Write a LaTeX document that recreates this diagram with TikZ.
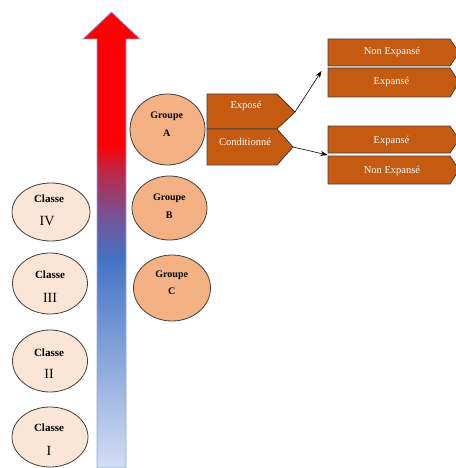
\documentclass[tikz,border=0pt]{standalone}
\usepackage{fontspec}
\setmainfont{Liberation Serif}
\usetikzlibrary{arrows.meta,shapes.geometric}
\definecolor{grpfill}{HTML}{F4B183}
\definecolor{clsfill}{HTML}{FBE5D6}
\definecolor{boxfill}{HTML}{C55A11}
\definecolor{edgegray}{HTML}{404040}
\definecolor{arrowedge}{HTML}{8EA9DB}
\definecolor{shlight}{HTML}{D3DFF3}
\definecolor{shblue}{HTML}{4472C4}
\definecolor{shpurple}{HTML}{7A5090}
\definecolor{shcrimson}{HTML}{C8203C}
\definecolor{shred}{HTML}{FF0000}
\pgfdeclareverticalshading{bigarrowshade}{100bp}{color(0bp)=(shlight); color(25bp)=(shlight); color(48bp)=(shblue); color(53bp)=(shpurple); color(58.2bp)=(shcrimson); color(60.4bp)=(shred); color(100bp)=(shred)}
\tikzset{
  clsnode/.style={draw=edgegray, line width=0.8pt, fill=clsfill, ellipse, inner sep=0pt},
  grpnode/.style={draw=edgegray, line width=0.8pt, fill=grpfill, ellipse, inner sep=0pt},
  clstxt/.style={anchor=base, inner sep=0pt, font=\fontsize{11}{13}\selectfont\bfseries},
  numtxt/.style={anchor=base, inner sep=0pt, font=\fontsize{14}{16}\selectfont},
  grptxt/.style={anchor=base, inner sep=0pt, font=\fontsize{10}{12}\selectfont\bfseries},
  boxshape/.style={draw=edgegray, line width=0.8pt, fill=boxfill, line join=miter},
  boxtxt/.style={anchor=base, inner sep=0pt, text=white, font=\fontsize{10.5}{12}\selectfont},
  conn/.style={line width=0.6pt, -{Stealth[length=7pt,width=5pt]}}
}
\begin{document}
\begin{tikzpicture}[x=1pt,y=-1pt]
\useasboundingbox (0,0) rectangle (455,468);
% big gradient arrow
\path[shading=bigarrowshade, draw=arrowedge, line width=0.8pt]
  (97,468) -- (97,39) -- (83,39) -- (111.5,12) -- (140,39) -- (126,39) -- (126,468) -- cycle;
% classes
\node[clsnode, minimum width=78pt, minimum height=58pt] (c4) at (51,212) {};
\node[clsnode, minimum width=75pt, minimum height=61pt] (c3) at (50,283.5) {};
\node[clsnode, minimum width=75pt, minimum height=62pt] (c2) at (50,361) {};
\node[clsnode, minimum width=76pt, minimum height=60pt] (c1) at (50,437) {};
\node[clstxt] (c4a) at (49,202) {Classe};
\node[numtxt] (c4b) at (47,225) {IV};
\node[clstxt] (c3a) at (50,278) {Classe};
\node[numtxt] (c3b) at (50,302) {III};
\node[clstxt] (c2a) at (49,356) {Classe};
\node[numtxt] (c2b) at (49,378) {II};
\node[clstxt] (c1a) at (49,431.5) {Classe};
\node[numtxt] (c1b) at (49,455) {I};
% groups
\node[grpnode, minimum width=75pt, minimum height=71pt] (ga) at (167.5,129.5) {};
\node[grpnode, minimum width=75pt, minimum height=64pt] (gb) at (169.5,208) {};
\node[grpnode, minimum width=77pt, minimum height=66pt] (gc) at (172,288) {};
\node[grptxt] (gaa) at (166.7,118) {Groupe};
\node[grptxt] (gab) at (166.7,136.5) {A};
\node[grptxt] (gba) at (169.3,200.5) {Groupe};
\node[grptxt] (gbb) at (169.3,218) {B};
\node[grptxt] (gca) at (171.7,277) {Groupe};
\node[grptxt] (gcb) at (171.7,294) {C};
% Exposé / Conditionné
\path[boxshape] (207,94) -- (277,94) -- (295,112) -- (277,129) -- (207,129) -- cycle;
\path[boxshape] (207,129) -- (277,129) -- (293,147) -- (277,165) -- (207,165) -- cycle;
\node[boxtxt] (expo) at (246,109) {Exposé};
\node[boxtxt] (cond) at (245,145) {Conditionné};
\coordinate (expotip) at (295,112);
\coordinate (condtip) at (293,147);
% right boxes
\path[boxshape] (328,39) -- (450,39) -- (459,52.5) -- (450,66) -- (328,66) -- cycle;
\path[boxshape] (328,68) -- (450,68) -- (459,82.5) -- (450,97) -- (328,97) -- cycle;
\path[boxshape] (328,126) -- (450,126) -- (459,139.5) -- (450,153) -- (328,153) -- cycle;
\path[boxshape] (328,156) -- (450,156) -- (459,170) -- (450,184) -- (328,184) -- cycle;
\node[boxtxt] (ne1) at (392,55) {Non Expansé};
\node[boxtxt] (e1) at (391.5,85) {Expansé};
\node[boxtxt] (e2) at (391.5,143) {Expansé};
\node[boxtxt] (ne2) at (392,173) {Non Expansé};
\coordinate (topin) at (321.5,71);
\coordinate (botin) at (327.5,155);
% connectors
\draw[conn] (expotip) -- (topin);
\draw[conn] (condtip) -- (botin);
\end{tikzpicture}
\end{document}
